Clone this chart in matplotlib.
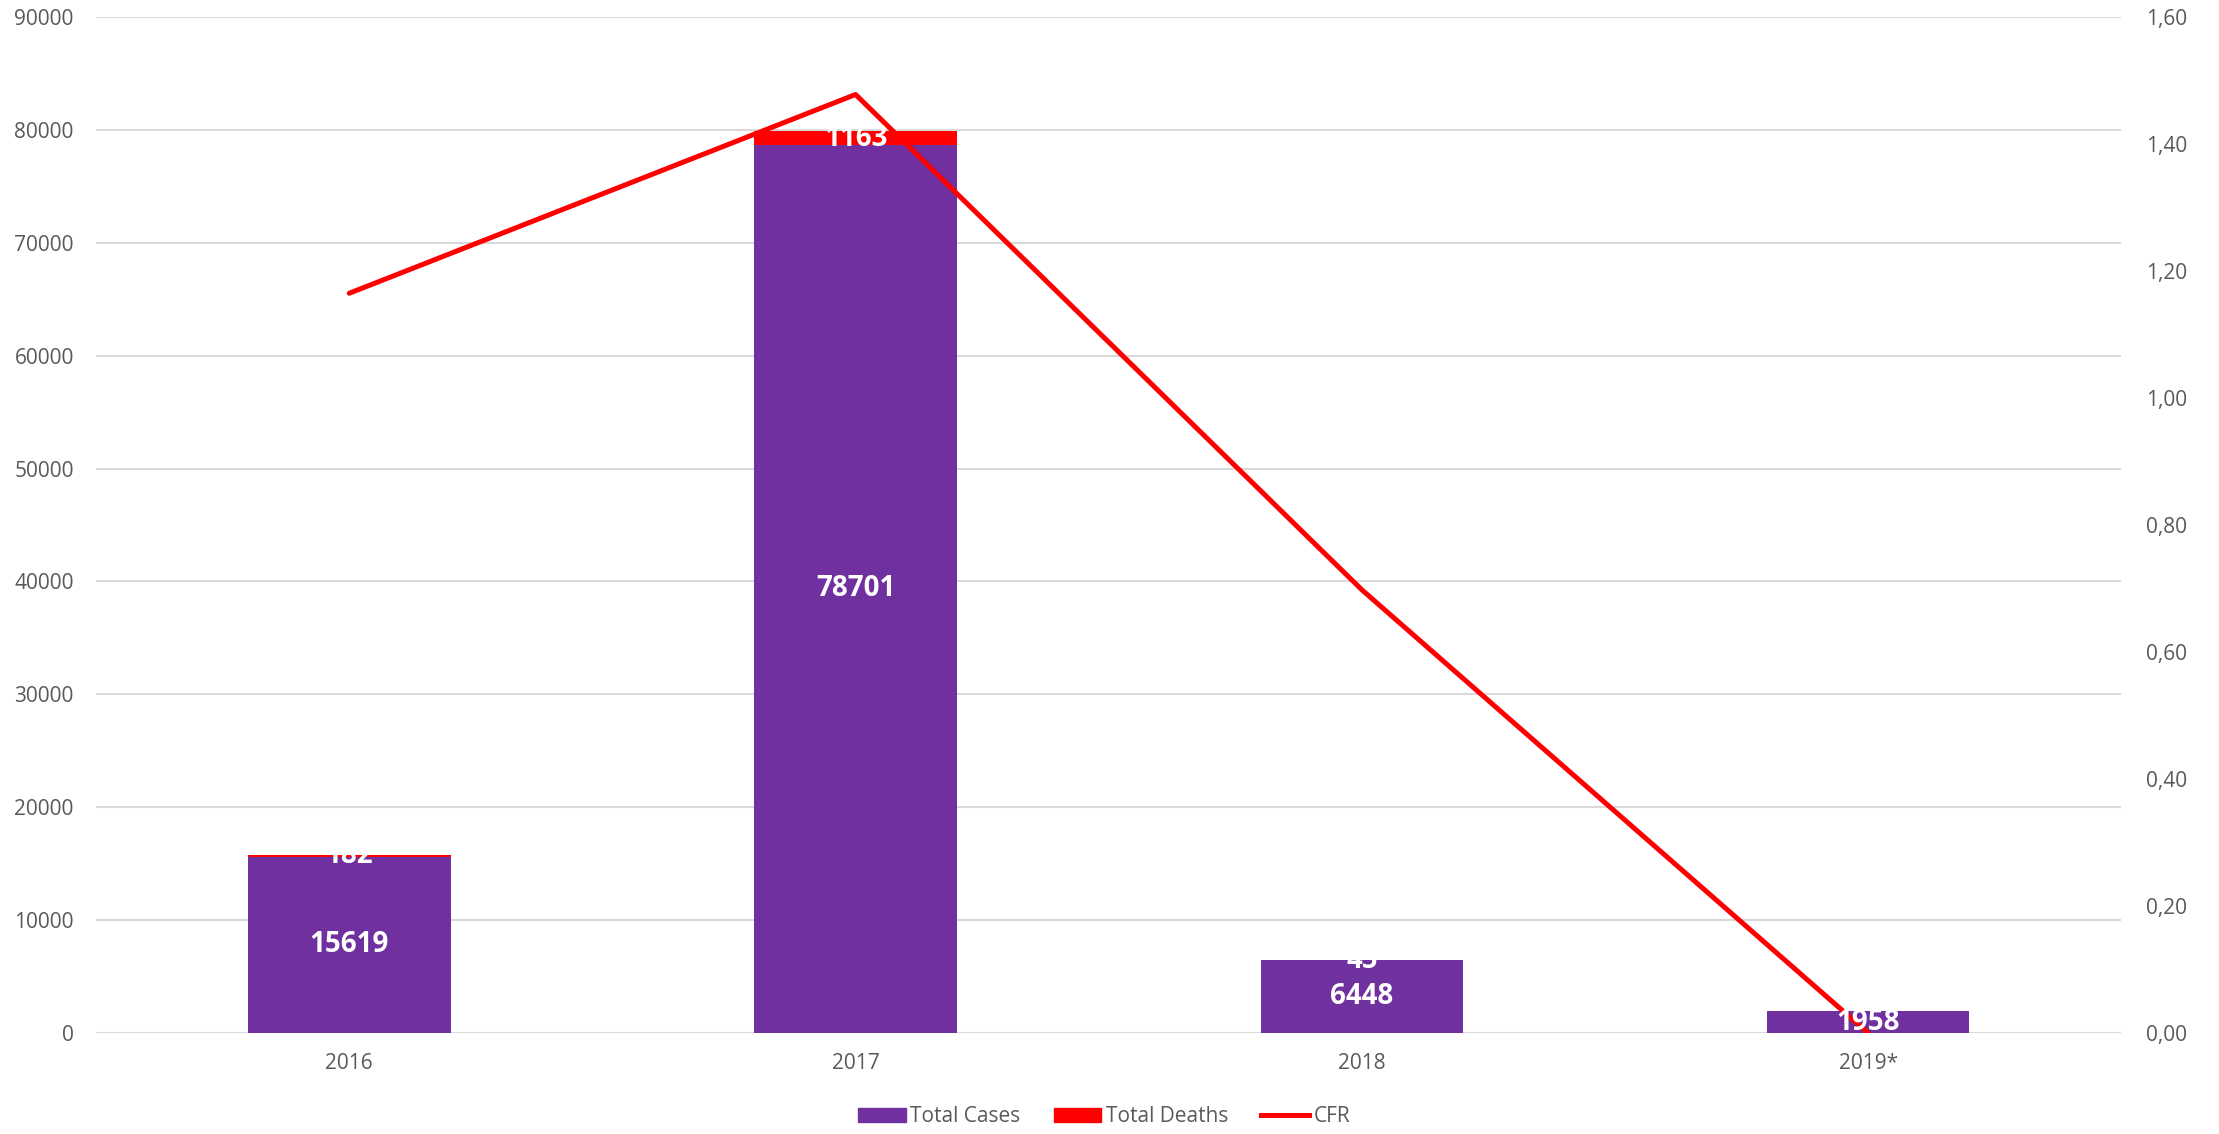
import matplotlib.pyplot as plt
from matplotlib.patches import Patch
from matplotlib.lines import Line2D

plt.rcParams['font.family'] = ['Open Sans', 'DejaVu Sans']

# data
years = ["2016", "2017", "2018", "2019*"]
total_cases = [15619, 78701, 6448, 1958]
total_deaths = [182, 1163, 45, 0]
cfr = [1.165, 1.478, 0.698, 0.0]

purple = "#7030A0"
red = "#FF0000"
grey_txt = "#595959"
grid_c = "#D9D9D9"

fig = plt.figure(figsize=(22.19, 11.34), dpi=100)
ax = fig.add_axes([0.0433, 0.089, 0.9127, 0.896])
ax2 = ax.twinx()

x = list(range(len(years)))
w = 0.4
ax.bar(x, total_cases, width=w, color=purple, zorder=2)
ax.bar(x, total_deaths, width=w, bottom=total_cases, color=red, zorder=2)

ax.set_ylim(0, 90000)
ax.set_yticks(range(0, 90001, 10000))
ax.set_xlim(-0.5, 3.5)
ax.set_xticks(x)
ax.set_xticklabels(years)
ax.grid(axis="y", color=grid_c, linewidth=1.5, zorder=0)
ax.set_axisbelow(True)

ax2.plot(x, cfr, color=red, linewidth=3.6, zorder=3, solid_capstyle="round")
ax2.set_ylim(0, 1.6)
ticks2 = [i * 0.2 for i in range(9)]
ax2.set_yticks(ticks2)
ax2.set_yticklabels([f"{t:.2f}".replace(".", ",") for t in ticks2])

for a in (ax, ax2):
    for s in a.spines.values():
        s.set_visible(False)
    a.tick_params(length=0, labelsize=15, labelcolor=grey_txt)
ax.tick_params(axis="x", pad=14)
ax.tick_params(axis="y", pad=16)
ax2.tick_params(axis="y", pad=18)

# data labels (drawn on top of line)
for i in x:
    ax2.text(i, total_cases[i] / 2, str(total_cases[i]), transform=ax.transData,
             ha="center", va="center", color="white", fontsize=20,
             fontweight="bold", zorder=5)
    if total_deaths[i] > 0:
        ax2.text(i, total_cases[i] + total_deaths[i] / 2, str(total_deaths[i]),
                 transform=ax.transData, ha="center", va="center",
                 color="white", fontsize=20, fontweight="bold", zorder=5)

handles = [Patch(color=purple, label="Total Cases"),
           Patch(color=red, label="Total Deaths"),
           Line2D([0], [0], color=red, linewidth=3.6, label="CFR")]
leg = fig.legend(handles=handles, loc="center", bbox_to_anchor=(0.4975, 0.015),
                 ncol=3, frameon=False, fontsize=15, handlelength=2.3,
                 handleheight=0.7, columnspacing=1.6, handletextpad=0.2)
for t in leg.get_texts():
    t.set_color(grey_txt)

fig.savefig("out.png", dpi=100)
